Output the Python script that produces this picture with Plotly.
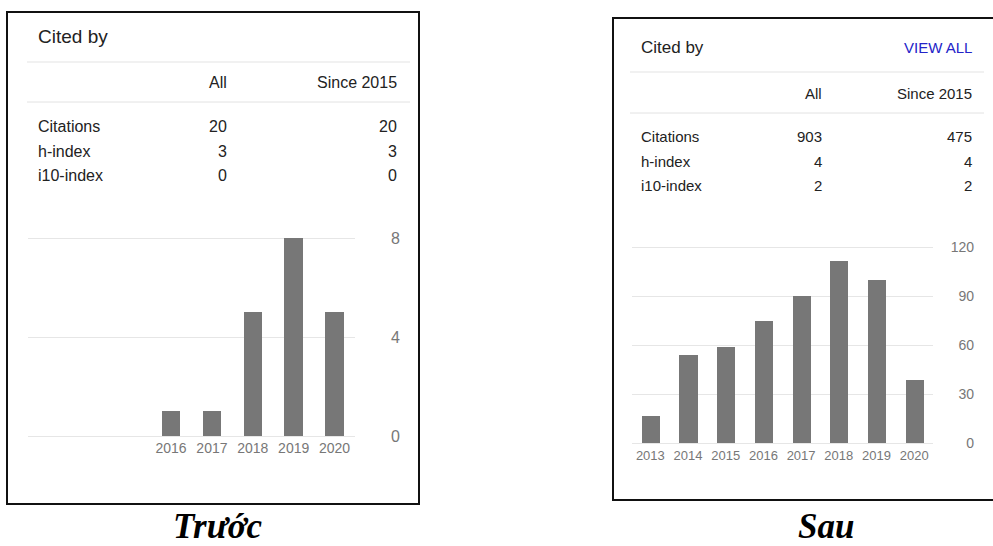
import plotly.graph_objects as go

# ---------------- data ----------------
before_years = [2016, 2017, 2018, 2019, 2020]
before_counts = [1, 1, 5, 8, 5]
before_yticks = [0, 4, 8]

after_years = [2013, 2014, 2015, 2016, 2017, 2018, 2019, 2020]
after_counts = [17, 54, 59, 75, 90, 112, 100, 39]
after_yticks = [0, 30, 60, 90, 120]

row_labels = ["Citations", "h-index", "i10-index"]
before_all = ["20", "3", "0"]
before_since = ["20", "3", "0"]
after_all = ["903", "4", "2"]
after_since = ["475", "4", "2"]

captions = ["Trước", "Sau"]

W, H = 993, 546
FONT = "Arial, Liberation Sans, sans-serif"
BAR = "#777777"
GRID = "#e6e6e6"
TICK = "#777777"
TXT = "#222222"

# vertical mapping: the page shows the figure slightly offset/compressed
V_OFF, V_SCALE = 7.0, 0.976


def px(x):
    return x / W


def py(y):
    yd = (y - V_OFF) / V_SCALE
    return 1 - yd / H


fig = go.Figure()

fig.add_trace(go.Bar(x=before_years, y=before_counts, width=0.45,
                     marker=dict(color=BAR, line=dict(width=0)),
                     xaxis="x", yaxis="y", hoverinfo="x+y"))
fig.add_trace(go.Bar(x=after_years, y=after_counts, width=0.48,
                     marker=dict(color=BAR, line=dict(width=0)),
                     xaxis="x2", yaxis="y2", hoverinfo="x+y"))

shapes = []
annotations = []


def hline(x0, x1, y, color="#e3e3e3", w=1):
    shapes.append(dict(type="line", xref="paper", yref="paper",
                       x0=px(x0), x1=px(x1), y0=py(y), y1=py(y),
                       line=dict(color=color, width=w)))


def text(t, x, y, size, color=TXT, xanchor="left", family=FONT):
    annotations.append(dict(text=t, x=px(x), y=py(y), xref="paper", yref="paper",
                            xanchor=xanchor, yanchor="middle", showarrow=False,
                            font=dict(family=family, size=size, color=color)))


# ---- borders ----
shapes.append(dict(type="rect", xref="paper", yref="paper",
                   x0=px(7), x1=px(419), y0=py(505), y1=py(13),
                   line=dict(color="#111111", width=2)))
shapes.append(dict(type="rect", xref="paper", yref="paper",
                   x0=px(613), x1=px(1003), y0=py(501), y1=py(19),
                   line=dict(color="#111111", width=2)))

# ---- left table ----
text("Cited by", 36, 37, 19)
hline(27, 410, 63)
text("All", 229, 83, 16, xanchor="right")
text("Since 2015", 399, 83, 16, xanchor="right")
hline(27, 410, 103)
for i, lab in enumerate(row_labels):
    yy = [127, 152, 176][i]
    text(lab, 36, yy, 16)
    text(before_all[i], 229, yy, 16, xanchor="right")
    text(before_since[i], 399, yy, 16, xanchor="right")

# ---- right table ----
text("Cited by", 639, 48, 17)
text("VIEW ALL", 974, 48, 15, color="#2323c8", xanchor="right")
hline(630, 984, 73)
text("All", 824, 94, 15, xanchor="right")
text("Since 2015", 974, 94, 15, xanchor="right")
hline(630, 984, 114)
for i, lab in enumerate(row_labels):
    yy = [137, 162, 186][i]
    text(lab, 639, yy, 15)
    text(after_all[i], 824, yy, 15, xanchor="right")
    text(after_since[i], 974, yy, 15, xanchor="right")

# ---- captions ----
for cap, cx in zip(captions, [217, 826]):
    annotations.append(dict(text="<b><i>%s</i></b>" % cap, x=px(cx), y=1 - 533 / H,
                            xref="paper", yref="paper", xanchor="center",
                            yanchor="middle", showarrow=False,
                            font=dict(family="Liberation Serif, Times New Roman, serif",
                                      size=35, color="#000000")))

fig.update_layout(
    width=W, height=H,
    margin=dict(l=0, r=0, t=0, b=0),
    paper_bgcolor="white", plot_bgcolor="white",
    showlegend=False, bargap=0,
    shapes=shapes, annotations=annotations,
    xaxis=dict(domain=[px(28), px(355)], range=[2012.5, 2020.5],
               tickvals=before_years, ticktext=[str(v) for v in before_years],
               showgrid=False, zeroline=False, showline=False, ticks="",
               tickfont=dict(family=FONT, size=14, color=TICK), anchor="y",
               fixedrange=True),
    yaxis=dict(domain=[py(439), py(237)], range=[-0.08, 8.08],
               tickvals=before_yticks, showgrid=True, gridcolor=GRID, gridwidth=1,
               zeroline=False, showline=False, ticks="",
               side="left", anchor="free", position=px(400),
               tickfont=dict(family=FONT, size=16, color=TICK), fixedrange=True),
    xaxis2=dict(domain=[px(631.5), px(933)], range=[2012.5, 2020.5],
                tickvals=after_years, ticktext=[str(v) for v in after_years],
                showgrid=False, zeroline=False, showline=False, ticks="",
                tickfont=dict(family=FONT, size=13, color=TICK), anchor="y2",
                fixedrange=True),
    yaxis2=dict(domain=[py(446.45), py(245.55)], range=[-1.5, 121.5],
                tickvals=after_yticks, showgrid=True, gridcolor=GRID, gridwidth=1,
                zeroline=False, showline=False, ticks="",
                side="left", anchor="free", position=px(974),
                tickfont=dict(family=FONT, size=14, color=TICK), fixedrange=True),
)

fig.write_html("out.html", config={"displayModeBar": False},
               post_script="document.body.style.margin='0';"
                           "document.body.style.overflow='hidden';")
